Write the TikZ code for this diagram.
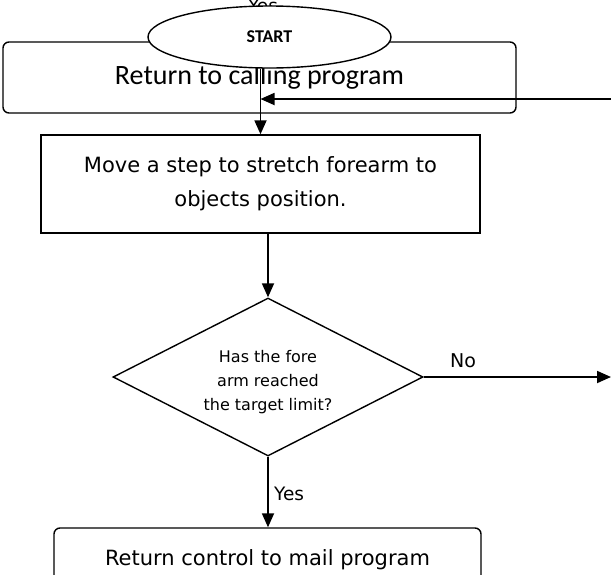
\documentclass[tikz,border=0pt]{standalone}
\usepackage{fontspec}
\setmainfont{DejaVu Sans}
\newfontfamily\carlito{Carlito}
\usetikzlibrary{shapes.geometric,arrows.meta}
\begin{document}
\begin{tikzpicture}[x=1pt,y=-1pt,
  flow/.style={-{Triangle[length=14pt,width=12pt]}, line width=1.8pt},
  box/.style={draw, line width=1.4pt, inner sep=0pt, align=center},
  decision/.style={draw, diamond, line width=1.4pt, inner sep=0pt,
    minimum width=310pt, minimum height=158pt},
  lbl/.style={inner sep=0pt, anchor=base, font=\fontsize{19}{22}\selectfont}
]
\useasboundingbox (0,0) rectangle (611,574);
\fill[white] (0,0) rectangle (611,574);
\clip (0,0) rectangle (611,574);

% return box behind the start terminal
\node[box, rounded corners=6pt, minimum width=513pt, minimum height=71pt,
      font=\carlito\fontsize{28}{32}\selectfont] (ret) at (259.5,77.5)
      {Return to calling program};
\node[lbl, font=\fontsize{18.5}{22}\selectfont] (yesTop) at (263,12.4) {Yes};

% start terminal
\node[box, ellipse, fill=white, minimum width=243pt, minimum height=62pt,
      font=\carlito\bfseries\fontsize{18}{22}\selectfont] (start) at (269.5,37) {START};

% process step
\node[box, minimum width=439pt, minimum height=98pt,
      font=\fontsize{21}{34}\selectfont] (move) at (260.5,184)
      {Move a step to stretch forearm to\\objects position.};

% decision
\node[decision] (q) at (268,377) {};
\begin{scope}
  \clip (0,0) rectangle (611,413);
  \node[inner sep=0pt, align=center, font=\fontsize{16}{24}\selectfont] (qText) at (268,382)
    {Has the fore\\arm reached\\the target limit?};
\end{scope}

% final step
\node[box, rounded corners=6pt, minimum width=427pt, minimum height=64pt,
      font=\fontsize{21}{26}\selectfont] (done) at (267.5,560)
      {Return control to mail program};

% connectors
\coordinate (loopIn) at (611,99);
\coordinate (noEnd) at (q.east -| loopIn);
\draw[flow] (start.south -| move.north) -- (move.north);
\draw[flow] (loopIn) -- (loopIn -| move.north);
\draw[flow] (move.south -| q.north) -- (q.north);
\draw[flow] (q.east) -- (noEnd);
\draw[flow] (q.south) -- (q.south |- done.north);

% branch labels
\node[lbl] (noLbl) at (463,367) {No};
\node[lbl, anchor=base west, font=\fontsize{18.5}{22}\selectfont] (yesLbl) at (274,500) {Yes};
\end{tikzpicture}
\end{document}
